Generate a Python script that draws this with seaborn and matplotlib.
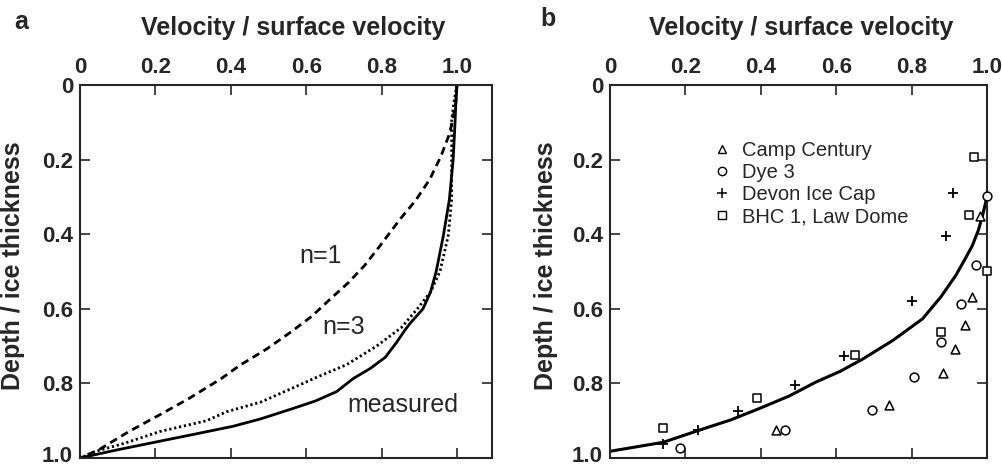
import numpy as np
import pandas as pd
import matplotlib
matplotlib.use("Agg")
import matplotlib.pyplot as plt
import seaborn as sns
from matplotlib.lines import Line2D
from matplotlib.ticker import FixedLocator, FixedFormatter
import matplotlib.transforms as mtransforms

# ---------------- Panel a data ----------------
n1_velocity = [1.0, 0.997, 0.981, 0.958, 0.928, 0.89, 0.849, 0.796, 0.755, 0.712, 0.665, 0.615, 0.56, 0.495, 0.425, 0.375, 0.29, 0.212, 0.13, 0.05, 0.0]
n1_depth    = [0.0, 0.05, 0.129, 0.19, 0.253, 0.31, 0.36, 0.431, 0.484, 0.53, 0.573, 0.62, 0.662, 0.708, 0.751, 0.787, 0.84, 0.884, 0.929, 0.978, 1.0]

n3_velocity = [1.0, 0.993, 0.986, 0.986, 0.986, 0.977, 0.955, 0.93, 0.895, 0.853, 0.787, 0.707, 0.62, 0.592, 0.48, 0.389, 0.336, 0.212, 0.12, 0.05, 0.0]
n3_depth    = [0.0, 0.04, 0.093, 0.2, 0.307, 0.404, 0.5, 0.555, 0.6, 0.65, 0.7, 0.75, 0.787, 0.8, 0.85, 0.876, 0.9, 0.929, 0.96, 0.98, 1.0]

measured_velocity = [1.0, 0.997, 0.995, 0.99, 0.98, 0.964, 0.945, 0.93, 0.91, 0.875, 0.86, 0.84, 0.81, 0.77, 0.725, 0.681, 0.625, 0.566, 0.48, 0.406, 0.3, 0.212, 0.1, 0.0]
measured_depth    = [0.0, 0.05, 0.1, 0.2, 0.307, 0.404, 0.5, 0.555, 0.6, 0.64, 0.66, 0.69, 0.73, 0.76, 0.787, 0.822, 0.847, 0.867, 0.895, 0.915, 0.937, 0.955, 0.978, 1.0]

# ---------------- Panel b data ----------------
model_velocity = [0.0, 0.141, 0.238, 0.32, 0.397, 0.475, 0.547, 0.61, 0.67, 0.75, 0.829, 0.877, 0.917, 0.94, 0.961, 0.977, 0.988, 1.0]
model_depth    = [0.982, 0.958, 0.925, 0.898, 0.867, 0.834, 0.796, 0.768, 0.735, 0.685, 0.627, 0.569, 0.511, 0.47, 0.431, 0.39, 0.351, 0.3]

camp_velocity = [0.981, 0.961, 0.942, 0.915, 0.884, 0.741, 0.441]
camp_depth    = [0.351, 0.569, 0.643, 0.707, 0.773, 0.857, 0.925]

dye3_velocity = [1.0, 0.972, 0.932, 0.877, 0.807, 0.694, 0.464, 0.185]
dye3_depth    = [0.298, 0.482, 0.587, 0.689, 0.784, 0.871, 0.925, 0.972]

devon_velocity = [0.909, 0.892, 0.802, 0.622, 0.491, 0.34, 0.234, 0.141]
devon_depth    = [0.289, 0.404, 0.58, 0.727, 0.803, 0.874, 0.925, 0.963]

bhc_velocity = [0.966, 0.953, 1.0, 0.877, 0.651, 0.389, 0.141]
bhc_depth    = [0.194, 0.348, 0.498, 0.662, 0.723, 0.84, 0.92]

tick_values = [0, 0.2, 0.4, 0.6, 0.8, 1.0]
tick_labels = ["0", "0.2", "0.4", "0.6", "0.8", "1.0"]

site_names = ["Camp Century", "Dye 3", "Devon Ice Cap", "BHC 1, Law Dome"]

# ---------------- Style ----------------
sns.set_style("ticks")
plt.rcParams['font.family'] = ['Liberation Sans', 'DejaVu Sans']
plt.rcParams['axes.linewidth'] = 1.5

fig = plt.figure(figsize=(10.02, 4.68), dpi=100)
ax_a = fig.add_axes([0.0798, 0.0214, 0.4112, 0.797])
ax_b = fig.add_axes([0.6088, 0.0214, 0.3762, 0.797])

lw = 2.0
sns.lineplot(x=n1_velocity, y=n1_depth, sort=False, estimator=None, ax=ax_a,
             color="black", linewidth=lw)
ax_a.lines[-1].set_linestyle((0, (2.8, 1.8)))
sns.lineplot(x=n3_velocity, y=n3_depth, sort=False, estimator=None, ax=ax_a,
             color="black", linewidth=lw)
ax_a.lines[-1].set_linestyle((0, (0.8, 1.0)))
sns.lineplot(x=measured_velocity, y=measured_depth, sort=False, estimator=None, ax=ax_a,
             color="black", linewidth=lw)

ax_a.text(0.637, 0.458, "n=1", fontsize=18, ha="center", va="center")
ax_a.text(0.70, 0.65, "n=3", fontsize=18, ha="center", va="center")
ax_a.text(0.857, 0.858, "measured", fontsize=18, ha="center", va="center")

# panel b
sns.lineplot(x=model_velocity, y=model_depth, sort=False, estimator=None, ax=ax_b,
             color="black", linewidth=2.2)

ms = 40
common = dict(ax=ax_b, zorder=3, clip_on=False)
sns.scatterplot(x=camp_velocity, y=camp_depth, marker="^", s=ms, facecolors="white",
                edgecolor="black", linewidth=1.1, **common)
sns.scatterplot(x=dye3_velocity, y=dye3_depth, marker="o", s=ms, facecolors="white",
                edgecolor="black", linewidth=1.1, **common)
sns.scatterplot(x=devon_velocity, y=devon_depth, marker="+", s=ms * 1.1, color="black",
                linewidth=1.3, **common)
sns.scatterplot(x=bhc_velocity, y=bhc_depth, marker="s", s=ms * 0.85, facecolors="white",
                edgecolor="black", linewidth=1.1, **common)

handles = [
    Line2D([], [], linestyle="none", marker="^", markersize=6, markerfacecolor="white",
           markeredgecolor="black", markeredgewidth=1.0),
    Line2D([], [], linestyle="none", marker="o", markersize=6, markerfacecolor="white",
           markeredgecolor="black", markeredgewidth=1.0),
    Line2D([], [], linestyle="none", marker="+", markersize=7, color="black",
           markeredgewidth=1.1),
    Line2D([], [], linestyle="none", marker="s", markersize=5.5, markerfacecolor="white",
           markeredgecolor="black", markeredgewidth=1.0),
]
ax_b.legend(handles, site_names, loc="upper left", bbox_to_anchor=(0.27, 0.85),
            frameon=False, fontsize=14.5, handlelength=1.0, handletextpad=0.5,
            labelspacing=0.15, borderpad=0.0, borderaxespad=0.0)

for ax, xmax in ((ax_a, 1.093), (ax_b, 1.0)):
    ax.set_xlim(0, xmax)
    ax.set_ylim(1.0, 0)
    ax.xaxis.set_major_locator(FixedLocator(tick_values))
    ax.xaxis.set_major_formatter(FixedFormatter(tick_labels))
    ax.yaxis.set_major_locator(FixedLocator(tick_values))
    ax.yaxis.set_major_formatter(FixedFormatter(tick_labels))
    ax.tick_params(which="both", direction="in", top=True, bottom=True, left=True, right=True,
                   labeltop=True, labelbottom=False, length=7, width=1.2, pad=5,
                   labelsize=16)
    for lab in ax.get_xticklabels() + ax.get_yticklabels():
        lab.set_fontweight("bold")
    ylabs = ax.get_yticklabels()
    ylabs[-1].set_transform(ylabs[-1].get_transform() +
                            mtransforms.ScaledTranslation(0, 3 / 72, fig.dpi_scale_trans))
    for sp in ax.spines.values():
        sp.set_visible(True)
        sp.set_linewidth(1.5)
    ax.xaxis.set_label_position("top")
    ax.set_xlabel("Velocity / surface velocity", fontsize=18, fontweight="bold")
    ax.set_ylabel("Depth / ice thickness", fontsize=18, fontweight="bold")

ax_a.xaxis.set_label_coords(0.517, 1.135)
ax_a.yaxis.set_label_coords(-0.1335, 0.515)
ax_b.xaxis.set_label_coords(0.507, 1.135)
ax_b.yaxis.set_label_coords(-0.138, 0.515)

fig.text(0.014, 0.979, "a", fontsize=18, fontweight="bold", ha="left", va="top")
fig.text(0.539, 0.985, "b", fontsize=18, fontweight="bold", ha="left", va="top")

fig.savefig("out.png", dpi=100)
